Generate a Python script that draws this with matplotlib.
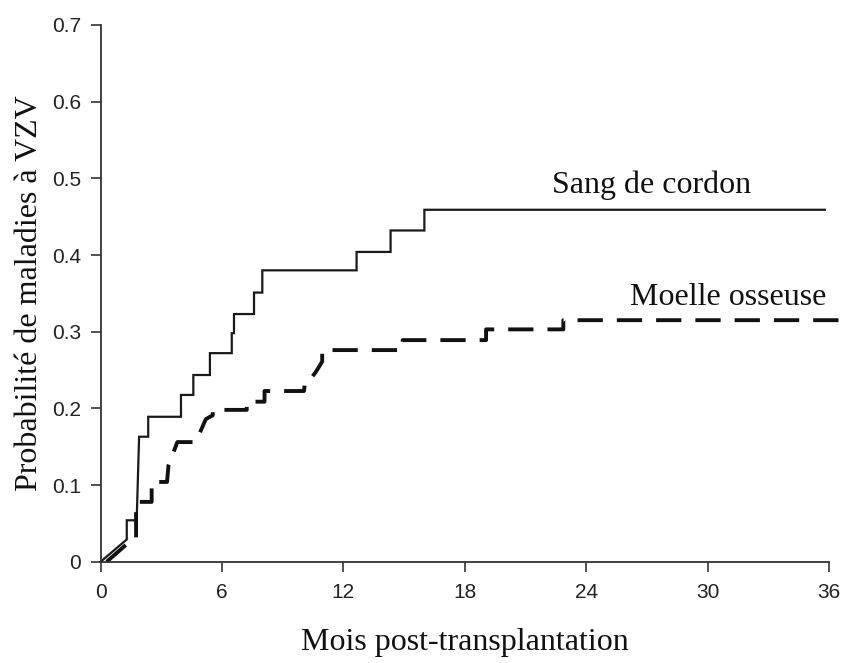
import matplotlib
matplotlib.use("Agg")
import matplotlib.pyplot as plt

# Cumulative incidence curves (months, probability)
cord_months = [0, 1.29, 1.29, 1.78, 1.9, 2.35, 2.35, 3.97, 3.97, 4.58, 4.58, 5.40, 5.40,
               6.48, 6.48, 6.59, 6.59, 7.58, 7.58, 7.99, 7.99, 12.65, 12.65, 14.33, 14.33,
               16.0, 16.0, 35.8]
cord_prob = [0, 0.029, 0.054, 0.054, 0.163, 0.163, 0.189, 0.189, 0.2175, 0.2175, 0.2435,
             0.2435, 0.272, 0.272, 0.298, 0.298, 0.323, 0.323, 0.351, 0.351, 0.38, 0.38,
             0.404, 0.404, 0.432, 0.432, 0.459, 0.459]

marrow_months = [0.3, 1.6, 1.75, 1.75, 2.52, 2.52, 3.28, 3.35, 3.79, 4.7, 5.2, 5.54, 5.54,
                 7.22, 7.22, 8.1, 8.1, 10.05, 10.1, 10.3, 10.65, 10.95, 10.95, 14.93, 14.93,
                 19.05, 19.05, 22.87, 22.87, 36.6]
marrow_prob = [0.0, 0.03, 0.03, 0.078, 0.078, 0.104, 0.104, 0.125, 0.156, 0.156, 0.186,
               0.191, 0.198, 0.198, 0.2087, 0.2087, 0.2226, 0.2226, 0.2345, 0.2355, 0.248,
               0.261, 0.276, 0.276, 0.289, 0.289, 0.303, 0.303, 0.315, 0.315]

x_ticks = [0, 6, 12, 18, 24, 30, 36]
y_ticks = [0, 0.1, 0.2, 0.3, 0.4, 0.5, 0.6, 0.7]
y_tick_labels = ["0", "0.1", "0.2", "0.3", "0.4", "0.5", "0.6", "0.7"]

serif = ["Liberation Serif", "DejaVu Serif"]
sans = ["Liberation Sans", "DejaVu Sans"]
axis_col = "#333333"

fig = plt.figure(figsize=(8.41, 6.63), dpi=100)
ax = fig.add_axes([0.1197, 0.1528, 0.866, 0.8095])

ax.plot(cord_months, cord_prob, color="#1a1a1a", linewidth=1.6,
        solid_joinstyle="miter", clip_on=False)
ax.plot(marrow_months, marrow_prob, color="#111111", linewidth=2.8,
        linestyle=(0, (6.5, 3.6)), dash_capstyle="butt", clip_on=False)

ax.text(22.3, 0.491, "Sang de cordon", family=serif, fontsize=23,
        ha="left", va="center", color="#111111")
ax.text(26.17, 0.344, "Moelle osseuse", family=serif, fontsize=23,
        ha="left", va="center", color="#111111")

ax.set_xlim(0, 36)
ax.set_ylim(0, 0.7)
ax.set_xticks(x_ticks)
ax.set_yticks(y_ticks)
ax.set_yticklabels(y_tick_labels)

for side in ["top", "right"]:
    ax.spines[side].set_visible(False)
for side in ["left", "bottom"]:
    ax.spines[side].set_linewidth(1.3)
    ax.spines[side].set_color(axis_col)

ax.tick_params(direction="out", length=7, width=1.2, color=axis_col,
               labelcolor="#222222")
ax.tick_params(axis="x", pad=8)
ax.tick_params(axis="y", pad=7)
for lab in ax.get_xticklabels() + ax.get_yticklabels():
    lab.set_family(sans)
    lab.set_fontsize(15)

ax.set_xlabel("Mois post-transplantation", family=serif, fontsize=23,
              color="#111111", labelpad=19)
ax.set_ylabel("Probabilité de maladies à VZV", family=serif, fontsize=23,
              color="#111111", labelpad=6)

fig.savefig("out.png", dpi=100)
